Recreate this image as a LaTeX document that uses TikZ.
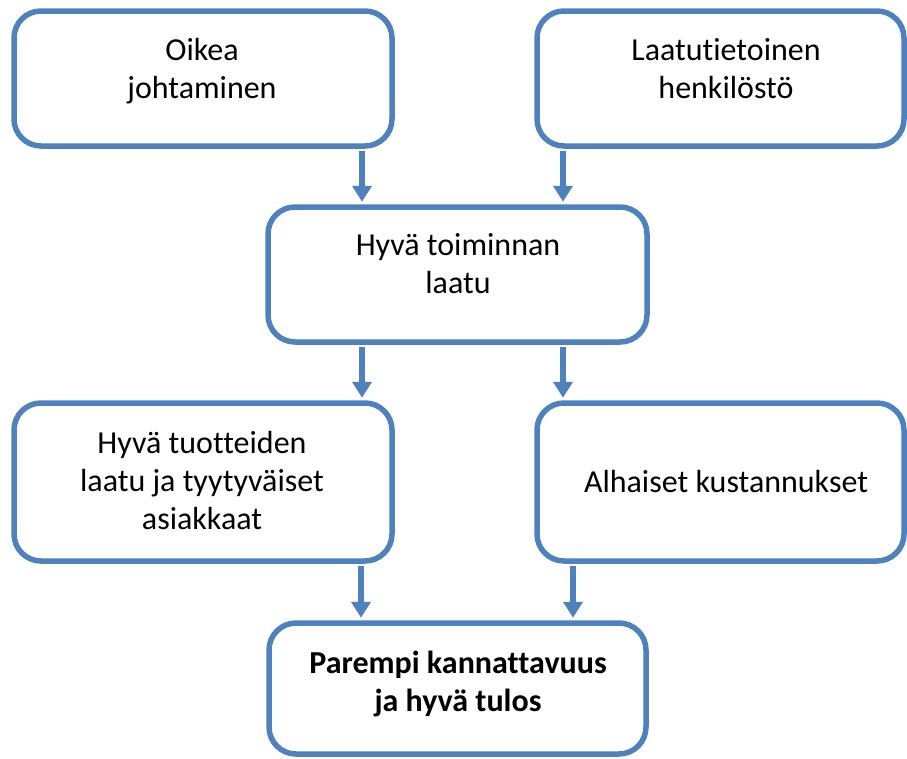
\documentclass[tikz,border=0pt]{standalone}
\usepackage{fontspec}
\setmainfont[Ligatures=NoCommon]{Carlito}
\usetikzlibrary{arrows.meta}
\definecolor{wordblue}{HTML}{4F81BD}
\tikzset{
  x=1pt,y=1pt,
  box/.style={draw=wordblue, line width=5.5pt, rounded corners=27pt, inner sep=0pt, fill=white},
  txt/.style={anchor=base, inner sep=0pt, font=\fontsize{32}{38}\selectfont},
  arr/.style={draw=wordblue, line width=5.8pt, -{Triangle[width=19pt,length=16pt]}, shorten >=2.5pt, shorten <=2.5pt}
}
\newcommand{\lines}[1]{\begin{tabular}[t]{@{}c@{}}#1\end{tabular}}
\begin{document}
\begin{tikzpicture}
\useasboundingbox (0,0) rectangle (907,-758);
% boxes
\node[box, minimum width=378pt, minimum height=135pt] (b1) at (203,-78.5) {};
\node[box, minimum width=367pt, minimum height=135pt] (b2) at (720.5,-78.5) {};
\node[box, minimum width=379pt, minimum height=135pt] (b3) at (457.5,-274.5) {};
\node[box, minimum width=378pt, minimum height=158pt] (b4) at (203,-482) {};
\node[box, minimum width=367pt, minimum height=158pt] (b5) at (720.5,-482) {};
\node[box, minimum width=377pt, minimum height=131pt] (b6) at (457.5,-688.5) {};
% texts
\node[txt] (t1) at (202,-60) {\lines{Oikea\\johtaminen}};
\node[txt] (t2) at (726,-60) {\lines{Laatutietoinen\\henkilöstö}};
\node[txt] (t3) at (458,-255) {\lines{Hyvä toiminnan\\laatu}};
\node[txt] (t4) at (202,-453) {\lines{Hyvä tuotteiden\\laatu ja tyytyväiset\\asiakkaat}};
\node[txt] (t5) at (726,-492) {\lines{Alhaiset kustannukset}};
\node[txt, font=\fontsize{32}{38}\selectfont\bfseries] (t6) at (458,-673) {\lines{Parempi kannattavuus\\ja hyvä tulos}};
% connector columns
\coordinate (cL) at (362,0);
\coordinate (cR) at (563,0);
\coordinate (dL) at (361,0);
\coordinate (dR) at (573,0);
% connectors
\draw[arr] (b1.south -| cL) -- (b3.north -| cL);
\draw[arr] (b2.south -| cR) -- (b3.north -| cR);
\draw[arr] (b3.south -| cL) -- (b4.north -| cL);
\draw[arr] (b3.south -| cR) -- (b5.north -| cR);
\draw[arr] (b4.south -| dL) -- (b6.north -| dL);
\draw[arr] (b5.south -| dR) -- (b6.north -| dR);
\end{tikzpicture}
\end{document}
